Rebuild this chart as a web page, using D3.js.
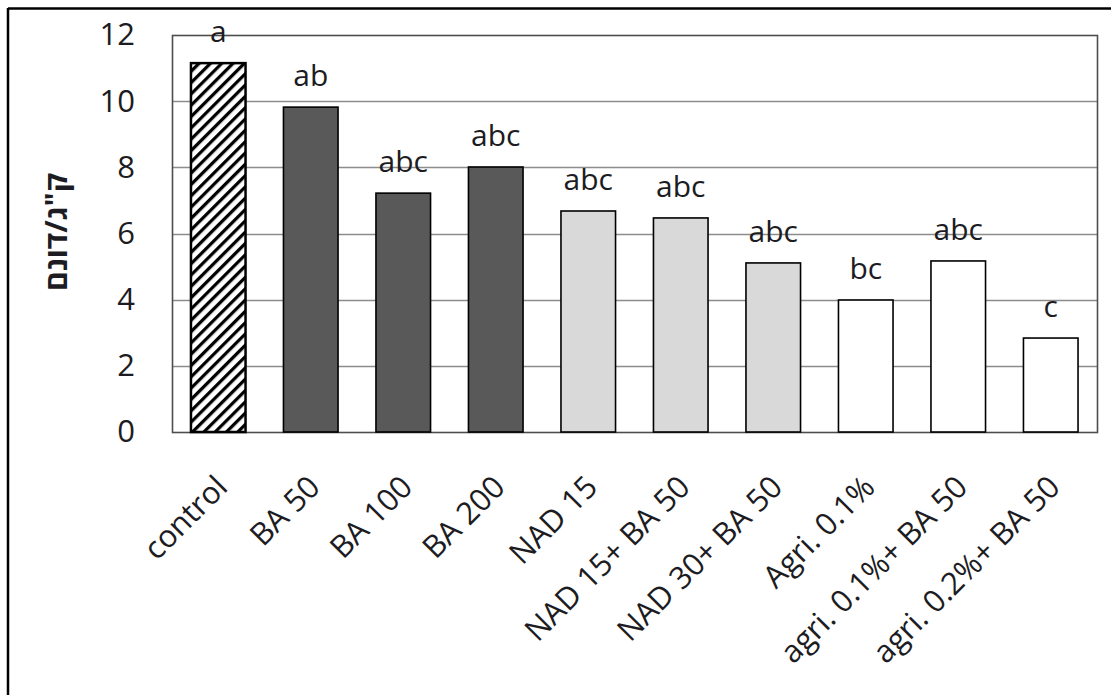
<!DOCTYPE html>
<html>
<head>
<meta charset="utf-8">
<script src="https://cdn.jsdelivr.net/npm/d3@7"></script>
<style>
  html, body { margin: 0; padding: 0; background: #fff; }
  svg { display: block; }
  text { font-family: "Open Sans", "Liberation Sans", sans-serif; fill: #1c1c22; }
</style>
</head>
<body>
<svg id="chart" width="1111" height="695"></svg>
<script>
// Treatments and yields per dunam
const categories = ["control", "BA 50", "BA 100", "BA 200", "NAD 15", "NAD 15+ BA 50",
  "NAD 30+ BA 50", "Agri. 0.1%", "agri. 0.1%+ BA 50", "agri. 0.2%+ BA 50"];
const values = [11.15, 9.82, 7.22, 8.01, 6.68, 6.47, 5.11, 3.99, 5.17, 2.84];
const letters = ["a", "ab", "abc", "abc", "abc", "abc", "abc", "bc", "abc", "c"];
const groups = ["control", "BA", "BA", "BA", "NAD", "NAD", "NAD", "agri", "agri", "agri"];
const yTicks = [0, 2, 4, 6, 8, 10, 12];
const yTitle = "ק\"ג/דונם";

const fills = { control: "url(#hatch)", BA: "#595959", NAD: "#d9d9d9", agri: "#ffffff" };

const svg = d3.select("#chart");
const plot = { left: 172, right: 1097, top: 35, bottom: 432 };

// Outer frame (top and left edges)
svg.append("line").attr("x1", 8).attr("x2", 1111).attr("y1", 8.5).attr("y2", 8.5)
  .attr("stroke", "#000").attr("stroke-width", 2.5);
svg.append("line").attr("x1", 8).attr("x2", 8).attr("y1", 8).attr("y2", 695)
  .attr("stroke", "#000").attr("stroke-width", 2.5);

// Diagonal hatch for the control bar
const defs = svg.append("defs");
const pat = defs.append("pattern").attr("id", "hatch").attr("patternUnits", "userSpaceOnUse")
  .attr("width", 8).attr("height", 8).attr("patternTransform", "rotate(45)");
pat.append("rect").attr("width", 8).attr("height", 8).attr("fill", "#fff");
pat.append("line").attr("x1", 0).attr("x2", 0).attr("y1", 0).attr("y2", 8)
  .attr("stroke", "#000").attr("stroke-width", 6.5);

const x = d3.scaleBand().domain(categories).range([plot.left, plot.right]).paddingInner(0.41).paddingOuter(0.205);
const y = d3.scaleLinear().domain([0, 12]).range([plot.bottom, plot.top]);

// Gridlines
svg.append("g").selectAll("line").data(yTicks.filter(t => t > 0 && t < 12)).join("line")
  .attr("x1", plot.left).attr("x2", plot.right)
  .attr("y1", d => Math.round(y(d)) + 0.5).attr("y2", d => Math.round(y(d)) + 0.5)
  .attr("stroke", "#8c8c8c").attr("stroke-width", 1.3);

// Plot frame
svg.append("rect").attr("x", plot.left + 0.5).attr("y", plot.top + 0.5)
  .attr("width", plot.right - plot.left).attr("height", plot.bottom - plot.top)
  .attr("fill", "none").attr("stroke", "#4d4d4d").attr("stroke-width", 1.6);

// Bars
svg.append("g").selectAll("rect").data(categories).join("rect")
  .attr("x", d => x(d)).attr("width", x.bandwidth())
  .attr("y", (d, i) => y(values[i])).attr("height", (d, i) => y(0) - y(values[i]))
  .attr("fill", (d, i) => fills[groups[i]])
  .attr("stroke", "#000").attr("stroke-width", (d, i) => i === 0 ? 2.5 : 1.6);

// Significance letters
svg.append("g").selectAll("text").data(categories).join("text")
  .attr("x", d => x(d) + x.bandwidth() / 2)
  .attr("y", (d, i) => y(values[i]) - 21)
  .attr("text-anchor", "middle").attr("font-size", 30)
  .text((d, i) => letters[i]);

// Y axis labels
const yAxis = d3.axisLeft(y).tickValues(yTicks).tickSize(0).tickPadding(37).tickFormat(d3.format("d"));
const ya = svg.append("g").attr("transform", `translate(${plot.left},0)`).call(yAxis);
ya.select(".domain").remove();
ya.selectAll("text").attr("font-size", 31).attr("font-family", "\"Open Sans\", sans-serif").attr("fill", "#1c1c22");

// X axis labels, rotated
const xAxis = d3.axisBottom(x).tickSize(0).tickPadding(0);
const xa = svg.append("g").attr("transform", `translate(0,${plot.bottom})`).call(xAxis);
xa.select(".domain").remove();
xa.selectAll("text")
  .attr("font-size", 31).attr("font-family", "\"Open Sans\", sans-serif").attr("fill", "#1c1c22")
  .attr("text-anchor", "end").attr("dy", 0)
  .attr("transform", "translate(11,57) rotate(-45)");

// Y axis title
svg.append("text")
  .attr("transform", "translate(67,232) rotate(-90)")
  .attr("text-anchor", "middle").attr("font-size", 30).attr("font-weight", "bold")
  .attr("direction", "rtl")
  .text(yTitle);
</script>
</body>
</html>
